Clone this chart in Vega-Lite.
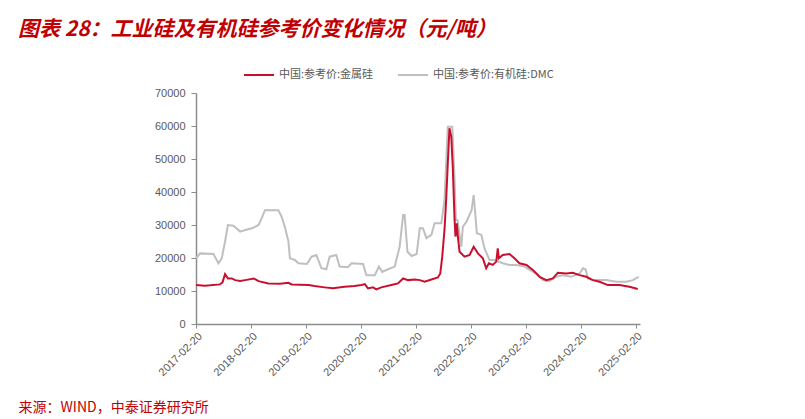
{
  "$schema": "https://vega.github.io/schema/vega-lite/v6.json",
  "width": 444,
  "height": 231,
  "autosize": "none",
  "padding": {"left": 196, "top": 93, "right": 165, "bottom": 95},
  "background": "white",
  "title": {
    "text": "图表 28：工业硅及有机硅参考价变化情况（元/吨）",
    "anchor": "start",
    "frame": "group",
    "dx": -178,
    "offset": 19,
    "fontSize": 21,
    "font": "Noto Sans CJK SC",
    "fontWeight": "bold",
    "fontStyle": "italic",
    "color": "#C00000"
  },
  "datasets": {
    "metal": [
      {"d": "2017-02-20", "v": 11800, "s": "中国:参考价:金属硅"},
      {"d": "2017-04-21", "v": 11600, "s": "中国:参考价:金属硅"},
      {"d": "2017-07-29", "v": 12000, "s": "中国:参考价:金属硅"},
      {"d": "2017-08-15", "v": 12600, "s": "中国:参考价:金属硅"},
      {"d": "2017-09-01", "v": 15100, "s": "中国:参考价:金属硅"},
      {"d": "2017-09-20", "v": 13800, "s": "中国:参考价:金属硅"},
      {"d": "2017-10-16", "v": 13800, "s": "中国:参考价:金属硅"},
      {"d": "2017-11-07", "v": 13300, "s": "中国:参考价:金属硅"},
      {"d": "2017-12-10", "v": 13000, "s": "中国:参考价:金属硅"},
      {"d": "2018-01-13", "v": 13300, "s": "中国:参考价:金属硅"},
      {"d": "2018-03-10", "v": 13800, "s": "中国:参考价:金属硅"},
      {"d": "2018-04-12", "v": 13000, "s": "中国:参考价:金属硅"},
      {"d": "2018-06-16", "v": 12300, "s": "中国:参考价:金属硅"},
      {"d": "2018-09-01", "v": 12200, "s": "中国:参考价:金属硅"},
      {"d": "2018-10-27", "v": 12500, "s": "中国:参考价:金属硅"},
      {"d": "2018-11-18", "v": 12000, "s": "中国:参考价:金属硅"},
      {"d": "2019-03-10", "v": 11800, "s": "中国:参考价:金属硅"},
      {"d": "2019-04-19", "v": 11500, "s": "中国:参考价:金属硅"},
      {"d": "2019-06-24", "v": 11100, "s": "中国:参考价:金属硅"},
      {"d": "2019-08-19", "v": 10800, "s": "中国:参考价:金属硅"},
      {"d": "2019-11-04", "v": 11300, "s": "中国:参考价:金属硅"},
      {"d": "2020-01-09", "v": 11500, "s": "中国:参考价:金属硅"},
      {"d": "2020-02-25", "v": 11800, "s": "中国:参考价:金属硅"},
      {"d": "2020-03-18", "v": 12100, "s": "中国:参考价:金属硅"},
      {"d": "2020-04-08", "v": 10800, "s": "中国:参考价:金属硅"},
      {"d": "2020-05-11", "v": 11100, "s": "中国:参考价:金属硅"},
      {"d": "2020-06-02", "v": 10500, "s": "中国:参考价:金属硅"},
      {"d": "2020-07-05", "v": 11100, "s": "中国:参考价:金属硅"},
      {"d": "2020-09-10", "v": 11800, "s": "中国:参考价:金属硅"},
      {"d": "2020-10-24", "v": 12300, "s": "中国:参考价:金属硅"},
      {"d": "2020-11-27", "v": 13800, "s": "中国:参考价:金属硅"},
      {"d": "2020-12-30", "v": 13300, "s": "中国:参考价:金属硅"},
      {"d": "2021-02-13", "v": 13500, "s": "中国:参考价:金属硅"},
      {"d": "2021-03-18", "v": 13300, "s": "中国:参考价:金属硅"},
      {"d": "2021-04-19", "v": 12800, "s": "中国:参考价:金属硅"},
      {"d": "2021-06-03", "v": 13500, "s": "中国:参考价:金属硅"},
      {"d": "2021-07-16", "v": 14100, "s": "中国:参考价:金属硅"},
      {"d": "2021-08-01", "v": 15300, "s": "中国:参考价:金属硅"},
      {"d": "2021-08-14", "v": 20400, "s": "中国:参考价:金属硅"},
      {"d": "2021-08-29", "v": 28500, "s": "中国:参考价:金属硅"},
      {"d": "2021-09-09", "v": 37600, "s": "中国:参考价:金属硅"},
      {"d": "2021-09-20", "v": 48700, "s": "中国:参考价:金属硅"},
      {"d": "2021-10-01", "v": 59300, "s": "中国:参考价:金属硅"},
      {"d": "2021-10-13", "v": 56800, "s": "中国:参考价:金属硅"},
      {"d": "2021-10-23", "v": 47700, "s": "中国:参考价:金属硅"},
      {"d": "2021-11-04", "v": 31500, "s": "中国:参考价:金属硅"},
      {"d": "2021-11-10", "v": 26500, "s": "中国:参考价:金属硅"},
      {"d": "2021-11-19", "v": 30500, "s": "中国:参考价:金属硅"},
      {"d": "2021-11-26", "v": 26500, "s": "中国:参考价:金属硅"},
      {"d": "2021-12-07", "v": 21900, "s": "中国:参考价:金属硅"},
      {"d": "2022-01-09", "v": 20400, "s": "中国:参考价:金属硅"},
      {"d": "2022-02-12", "v": 20900, "s": "中国:参考价:金属硅"},
      {"d": "2022-03-11", "v": 23400, "s": "中国:参考价:金属硅"},
      {"d": "2022-04-08", "v": 21400, "s": "中国:参考价:金属硅"},
      {"d": "2022-05-11", "v": 19900, "s": "中国:参考价:金属硅"},
      {"d": "2022-06-02", "v": 16900, "s": "中国:参考价:金属硅"},
      {"d": "2022-06-20", "v": 18400, "s": "中国:参考价:金属硅"},
      {"d": "2022-07-16", "v": 17900, "s": "中国:参考价:金属硅"},
      {"d": "2022-08-08", "v": 18900, "s": "中国:参考价:金属硅"},
      {"d": "2022-08-18", "v": 22900, "s": "中国:参考价:金属硅"},
      {"d": "2022-08-25", "v": 19900, "s": "中国:参考价:金属硅"},
      {"d": "2022-09-20", "v": 20900, "s": "中国:参考价:金属硅"},
      {"d": "2022-11-04", "v": 21200, "s": "中国:参考价:金属硅"},
      {"d": "2022-12-07", "v": 19900, "s": "中国:参考价:金属硅"},
      {"d": "2023-01-09", "v": 18400, "s": "中国:参考价:金属硅"},
      {"d": "2023-02-25", "v": 17900, "s": "中国:参考价:金属硅"},
      {"d": "2023-04-08", "v": 16400, "s": "中国:参考价:金属硅"},
      {"d": "2023-05-23", "v": 14300, "s": "中国:参考价:金属硅"},
      {"d": "2023-07-06", "v": 13300, "s": "中国:参考价:金属硅"},
      {"d": "2023-08-19", "v": 13800, "s": "中国:参考价:金属硅"},
      {"d": "2023-09-21", "v": 15500, "s": "中国:参考价:金属硅"},
      {"d": "2023-11-15", "v": 15300, "s": "中国:参考价:金属硅"},
      {"d": "2023-12-29", "v": 15500, "s": "中国:参考价:金属硅"},
      {"d": "2024-02-13", "v": 14800, "s": "中国:参考价:金属硅"},
      {"d": "2024-03-28", "v": 14300, "s": "中国:参考价:金属硅"},
      {"d": "2024-05-11", "v": 13300, "s": "中国:参考价:金属硅"},
      {"d": "2024-06-24", "v": 12800, "s": "中国:参考价:金属硅"},
      {"d": "2024-08-19", "v": 11800, "s": "中国:参考价:金属硅"},
      {"d": "2024-11-04", "v": 11800, "s": "中国:参考价:金属硅"},
      {"d": "2025-01-09", "v": 11300, "s": "中国:参考价:金属硅"},
      {"d": "2025-03-05", "v": 10600, "s": "中国:参考价:金属硅"}
    ],
    "dmc": [
      {"d": "2017-02-20", "v": 19900, "s": "中国:参考价:有机硅:DMC"},
      {"d": "2017-03-19", "v": 21400, "s": "中国:参考价:有机硅:DMC"},
      {"d": "2017-06-16", "v": 21200, "s": "中国:参考价:有机硅:DMC"},
      {"d": "2017-07-19", "v": 18400, "s": "中国:参考价:有机硅:DMC"},
      {"d": "2017-08-10", "v": 19900, "s": "中国:参考价:有机硅:DMC"},
      {"d": "2017-09-01", "v": 25000, "s": "中国:参考价:有机硅:DMC"},
      {"d": "2017-09-20", "v": 30000, "s": "中国:参考价:有机硅:DMC"},
      {"d": "2017-10-27", "v": 29800, "s": "中国:参考价:有机硅:DMC"},
      {"d": "2017-12-10", "v": 28000, "s": "中国:参考价:有机硅:DMC"},
      {"d": "2018-01-13", "v": 28500, "s": "中国:参考价:有机硅:DMC"},
      {"d": "2018-02-27", "v": 29000, "s": "中国:参考价:有机硅:DMC"},
      {"d": "2018-04-12", "v": 30000, "s": "中国:参考价:有机硅:DMC"},
      {"d": "2018-05-02", "v": 32000, "s": "中国:参考价:有机硅:DMC"},
      {"d": "2018-05-24", "v": 34500, "s": "中国:参考价:有机硅:DMC"},
      {"d": "2018-08-21", "v": 34500, "s": "中国:参考价:有机硅:DMC"},
      {"d": "2018-09-12", "v": 32500, "s": "中国:参考价:有机硅:DMC"},
      {"d": "2018-10-03", "v": 29500, "s": "中国:参考价:有机硅:DMC"},
      {"d": "2018-10-27", "v": 25000, "s": "中国:参考价:有机硅:DMC"},
      {"d": "2018-11-06", "v": 19900, "s": "中国:参考价:有机硅:DMC"},
      {"d": "2018-12-09", "v": 19400, "s": "中国:参考价:有机硅:DMC"},
      {"d": "2019-01-01", "v": 18400, "s": "中国:参考价:有机硅:DMC"},
      {"d": "2019-02-27", "v": 18200, "s": "中国:参考价:有机硅:DMC"},
      {"d": "2019-03-30", "v": 20400, "s": "中国:参考价:有机硅:DMC"},
      {"d": "2019-05-01", "v": 20900, "s": "中国:参考价:有机硅:DMC"},
      {"d": "2019-05-22", "v": 18400, "s": "中国:参考价:有机硅:DMC"},
      {"d": "2019-06-03", "v": 16900, "s": "中国:参考价:有机硅:DMC"},
      {"d": "2019-07-06", "v": 16600, "s": "中国:参考价:有机硅:DMC"},
      {"d": "2019-07-28", "v": 20400, "s": "中国:参考价:有机硅:DMC"},
      {"d": "2019-09-10", "v": 20900, "s": "中国:参考价:有机硅:DMC"},
      {"d": "2019-10-02", "v": 17400, "s": "中国:参考价:有机硅:DMC"},
      {"d": "2019-11-26", "v": 17200, "s": "中国:参考价:有机硅:DMC"},
      {"d": "2019-12-20", "v": 18400, "s": "中国:参考价:有机硅:DMC"},
      {"d": "2020-03-06", "v": 18200, "s": "中国:参考价:有机硅:DMC"},
      {"d": "2020-03-28", "v": 14800, "s": "中国:参考价:有机硅:DMC"},
      {"d": "2020-05-23", "v": 14800, "s": "中国:参考价:有机硅:DMC"},
      {"d": "2020-06-19", "v": 17400, "s": "中国:参考价:有机硅:DMC"},
      {"d": "2020-07-11", "v": 15800, "s": "中国:参考价:有机硅:DMC"},
      {"d": "2020-08-19", "v": 16600, "s": "中国:参考价:有机硅:DMC"},
      {"d": "2020-10-02", "v": 17400, "s": "中国:参考价:有机硅:DMC"},
      {"d": "2020-11-04", "v": 23400, "s": "中国:参考价:有机硅:DMC"},
      {"d": "2020-11-27", "v": 33000, "s": "中国:参考价:有机硅:DMC"},
      {"d": "2020-12-07", "v": 33000, "s": "中国:参考价:有机硅:DMC"},
      {"d": "2020-12-26", "v": 21900, "s": "中国:参考价:有机硅:DMC"},
      {"d": "2021-01-22", "v": 20600, "s": "中国:参考价:有机硅:DMC"},
      {"d": "2021-02-25", "v": 21200, "s": "中国:参考价:有机硅:DMC"},
      {"d": "2021-03-18", "v": 29000, "s": "中国:参考价:有机硅:DMC"},
      {"d": "2021-04-08", "v": 29000, "s": "中国:参考价:有机硅:DMC"},
      {"d": "2021-05-01", "v": 26000, "s": "中国:参考价:有机硅:DMC"},
      {"d": "2021-06-03", "v": 27000, "s": "中国:参考价:有机硅:DMC"},
      {"d": "2021-06-24", "v": 30500, "s": "中国:参考价:有机硅:DMC"},
      {"d": "2021-08-08", "v": 30500, "s": "中国:参考价:有机硅:DMC"},
      {"d": "2021-08-29", "v": 37600, "s": "中国:参考价:有机硅:DMC"},
      {"d": "2021-09-20", "v": 59800, "s": "中国:参考价:有机硅:DMC"},
      {"d": "2021-10-20", "v": 59800, "s": "中国:参考价:有机硅:DMC"},
      {"d": "2021-11-04", "v": 43600, "s": "中国:参考价:有机硅:DMC"},
      {"d": "2021-11-13", "v": 31500, "s": "中国:参考价:有机硅:DMC"},
      {"d": "2021-11-23", "v": 31500, "s": "中国:参考价:有机硅:DMC"},
      {"d": "2021-12-19", "v": 23400, "s": "中国:参考价:有机硅:DMC"},
      {"d": "2021-12-29", "v": 29500, "s": "中国:参考价:有机硅:DMC"},
      {"d": "2022-01-22", "v": 31000, "s": "中国:参考价:有机硅:DMC"},
      {"d": "2022-02-25", "v": 34500, "s": "中国:参考价:有机硅:DMC"},
      {"d": "2022-03-11", "v": 39100, "s": "中国:参考价:有机硅:DMC"},
      {"d": "2022-04-01", "v": 27500, "s": "中国:参考价:有机硅:DMC"},
      {"d": "2022-05-01", "v": 27000, "s": "中国:参考价:有机硅:DMC"},
      {"d": "2022-05-22", "v": 22900, "s": "中国:参考价:有机硅:DMC"},
      {"d": "2022-06-24", "v": 19400, "s": "中国:参考价:有机硅:DMC"},
      {"d": "2022-07-27", "v": 19400, "s": "中国:参考价:有机硅:DMC"},
      {"d": "2022-09-20", "v": 18400, "s": "中国:参考价:有机硅:DMC"},
      {"d": "2022-11-04", "v": 17900, "s": "中国:参考价:有机硅:DMC"},
      {"d": "2022-12-19", "v": 17900, "s": "中国:参考价:有机硅:DMC"},
      {"d": "2023-02-13", "v": 17400, "s": "中国:参考价:有机硅:DMC"},
      {"d": "2023-03-18", "v": 16400, "s": "中国:参考价:有机硅:DMC"},
      {"d": "2023-05-01", "v": 15300, "s": "中国:参考价:有机硅:DMC"},
      {"d": "2023-06-14", "v": 13300, "s": "中国:参考价:有机硅:DMC"},
      {"d": "2023-07-27", "v": 13000, "s": "中国:参考价:有机硅:DMC"},
      {"d": "2023-09-10", "v": 14300, "s": "中国:参考价:有机硅:DMC"},
      {"d": "2023-10-24", "v": 14800, "s": "中国:参考价:有机硅:DMC"},
      {"d": "2023-12-19", "v": 14300, "s": "中国:参考价:有机硅:DMC"},
      {"d": "2024-02-13", "v": 15300, "s": "中国:参考价:有机硅:DMC"},
      {"d": "2024-03-06", "v": 16900, "s": "中国:参考价:有机硅:DMC"},
      {"d": "2024-03-24", "v": 16500, "s": "中国:参考价:有机硅:DMC"},
      {"d": "2024-04-08", "v": 13800, "s": "中国:参考价:有机硅:DMC"},
      {"d": "2024-05-11", "v": 13300, "s": "中国:参考价:有机硅:DMC"},
      {"d": "2024-08-08", "v": 13300, "s": "中国:参考价:有机硅:DMC"},
      {"d": "2024-10-13", "v": 12800, "s": "中国:参考价:有机硅:DMC"},
      {"d": "2024-12-19", "v": 12800, "s": "中国:参考价:有机硅:DMC"},
      {"d": "2025-01-31", "v": 13300, "s": "中国:参考价:有机硅:DMC"},
      {"d": "2025-02-20", "v": 13800, "s": "中国:参考价:有机硅:DMC"},
      {"d": "2025-03-12", "v": 14300, "s": "中国:参考价:有机硅:DMC"}
    ]
  },
  "encoding": {
    "x": {
      "field": "d",
      "type": "temporal",
      "scale": {"type": "utc", "domain": [{"year": 2017, "month": 2, "date": 20, "utc": true}, {"year": 2025, "month": 3, "date": 20, "utc": true}]},
      "axis": {
        "values": [
          {"year": 2017, "month": 2, "date": 20, "utc": true},
          {"year": 2018, "month": 2, "date": 20, "utc": true},
          {"year": 2019, "month": 2, "date": 20, "utc": true},
          {"year": 2020, "month": 2, "date": 20, "utc": true},
          {"year": 2021, "month": 2, "date": 20, "utc": true},
          {"year": 2022, "month": 2, "date": 20, "utc": true},
          {"year": 2023, "month": 2, "date": 20, "utc": true},
          {"year": 2024, "month": 2, "date": 20, "utc": true},
          {"year": 2025, "month": 2, "date": 20, "utc": true}
        ],
        "labelExpr": "utcFormat(datum.value, '%Y-%m-%d')",
        "labelAngle": -45,
        "labelAlign": "right",
        "labelBaseline": "top",
        "labelFont": "Liberation Sans",
        "labelFontSize": 11,
        "labelColor": "#595959",
        "labelOverlap": false,
        "labelFlush": false,
        "grid": false,
        "domainColor": "#8C8C8C",
        "domainWidth": 1.5,
        "tickColor": "#8C8C8C",
        "tickSize": 4,
        "labelPadding": 2,
        "title": "来源：WIND，中泰证券研究所",
        "titleAnchor": "start",
        "titleAlign": "left",
        "titleBaseline": "middle",
        "titleX": -178,
        "titleY": 83,
        "titleColor": "#C00000",
        "titleFont": "Noto Sans CJK SC",
        "titleFontSize": 14,
        "titleFontWeight": "normal"
      }
    },
    "y": {
      "field": "v",
      "type": "quantitative",
      "scale": {"domain": [0, 70000], "nice": false},
      "axis": {
        "values": [0, 10000, 20000, 30000, 40000, 50000, 60000, 70000],
        "format": "d",
        "title": null,
        "grid": false,
        "labelFont": "Liberation Sans",
        "labelFontSize": 11,
        "labelColor": "#595959",
        "domainColor": "#8C8C8C",
        "domainWidth": 1.5,
        "tickColor": "#8C8C8C",
        "tickSize": 5,
        "labelPadding": 6
      }
    },
    "color": {
      "field": "s",
      "type": "nominal",
      "scale": {"domain": ["中国:参考价:金属硅", "中国:参考价:有机硅:DMC"], "range": ["#C8102E", "#BFBFBF"]},
      "legend": {
        "title": null,
        "orient": "none",
        "legendX": 47,
        "legendY": -34,
        "direction": "horizontal",
        "symbolType": "stroke",
        "symbolSize": 900,
        "symbolStrokeWidth": 2,
        "labelFont": "Noto Sans CJK SC",
        "labelFontSize": 11,
        "labelColor": "#595959",
        "labelOffset": 4,
        "columnPadding": 20
      }
    }
  },
  "layer": [
    {"data": {"name": "dmc"}, "mark": {"type": "line", "strokeWidth": 2, "interpolate": "linear"}},
    {"data": {"name": "metal"}, "mark": {"type": "line", "strokeWidth": 2, "interpolate": "linear"}}
  ],
  "config": {"view": {"stroke": null}}
}
